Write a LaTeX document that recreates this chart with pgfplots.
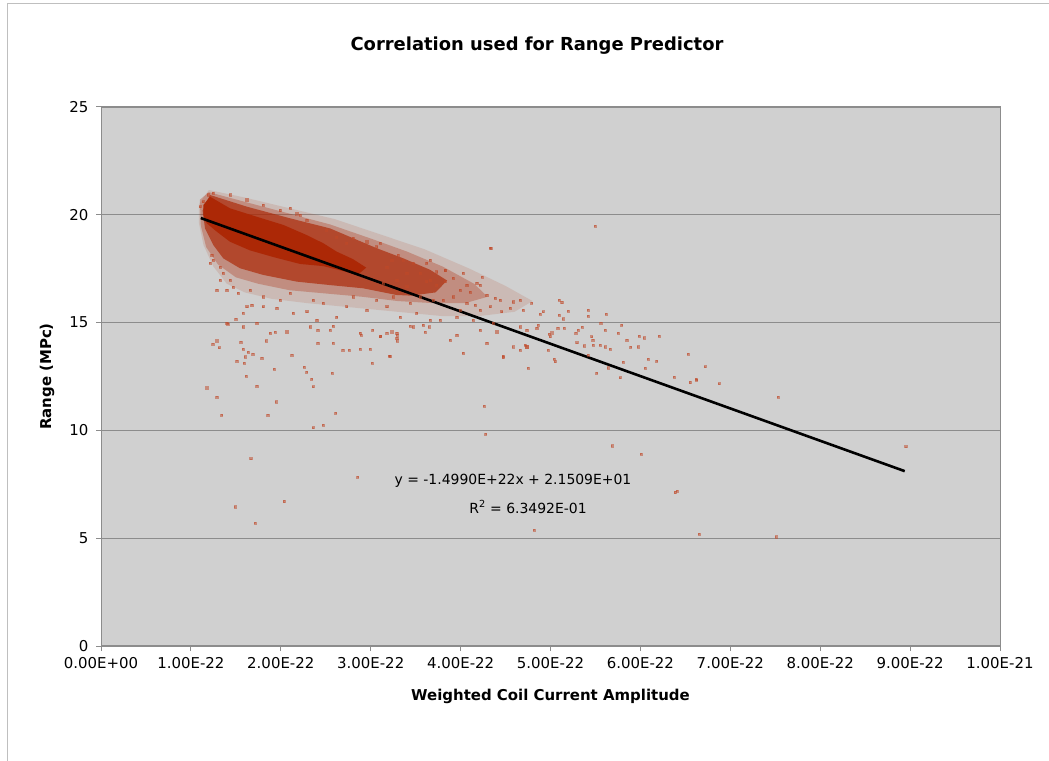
\documentclass[border=0pt]{standalone}
\usepackage{pgfplots}
\pgfplotsset{compat=1.18}
\usepackage{fontspec}
\setmainfont{DejaVu Sans}
\definecolor{plotbg}{RGB}{208,208,208}
\definecolor{core}{RGB}{172,40,6}
\definecolor{pt}{RGB}{192,72,40}
\definecolor{gridc}{RGB}{140,140,140}
\begin{document}
\begin{tikzpicture}
\useasboundingbox (0,0) rectangle (1049bp,761bp);
\fill[white] (0,0) rectangle (1049bp,761bp);
\draw[black!25, line width=1bp] (7bp,0) -- (7bp,757bp) -- (1049bp,757bp);
\begin{axis}[
  at={(101bp,115bp)}, anchor=south west,
  scale only axis, width=899bp, height=539bp,
  xmin=0, xmax=10, ymin=0, ymax=25,
  xtick={0,1,...,10},
  xticklabels={0.00E+00,1.00E-22,2.00E-22,3.00E-22,4.00E-22,5.00E-22,6.00E-22,7.00E-22,8.00E-22,9.00E-22,1.00E-21},
  ytick={0,5,...,25},
  ymajorgrids, grid style={draw=gridc, line width=1.2bp},
  axis background/.style={fill=plotbg},
  axis line style={draw=gridc, line width=1bp},
  tick style={draw=gridc, line width=1bp},
  tick align=outside, major tick length=5bp,
  xtick pos=left, ytick pos=left,
  ticklabel style={font=\fontsize{15}{18}\selectfont},
  xticklabel style={yshift=-3bp},
  yticklabel style={xshift=-4bp},
  /pgf/number format/assume math mode=true,
  title={Correlation used for Range Predictor},
  title style={font=\fontsize{18}{20}\selectfont\bfseries, at={(axis description cs:0.485,1.0928)}, anchor=base},
  xlabel={Weighted Coil Current Amplitude},
  xlabel style={font=\fontsize{15}{18}\selectfont\bfseries, at={(axis description cs:0.5,-0.102)}, anchor=base},
  ylabel={Range (MPc)},
  ylabel style={font=\fontsize{15}{18}\selectfont\bfseries, at={(axis description cs:-0.06,0.5)}, anchor=center},
]
% outer, sparse part of the dense cloud
\addplot[draw=none, fill=core, fill opacity=0.13] coordinates {
(1.09,20.5) (1.2,21.15) (1.6,20.8) (2.1,20.3) (2.6,19.8) (3.1,19.1) (3.6,18.4) (4.1,17.5) (4.5,16.7) (4.8,16.0)
(4.6,15.5) (4.2,15.3) (3.8,15.3) (3.3,15.5) (2.8,15.7) (2.3,15.9) (1.9,16.1) (1.6,16.4) (1.4,16.8) (1.25,17.6) (1.14,18.6) (1.09,19.6)} -- cycle;
\addplot[draw=none, fill=core, fill opacity=0.3] coordinates {
(1.10,20.7) (1.2,21.05) (1.6,20.6) (2.1,20.05) (2.55,19.55) (3.0,18.9) (3.4,18.3) (3.8,17.6) (4.15,16.8) (4.3,16.2)
(4.05,15.9) (3.7,15.9) (3.3,16.0) (2.9,16.2) (2.5,16.35) (2.1,16.5) (1.75,16.8) (1.5,17.1) (1.3,17.7) (1.17,18.5) (1.11,19.5)} -- cycle;
% medium density part
\addplot[draw=none, fill=core, fill opacity=0.68] coordinates {
(1.212,20.92) (1.62,20.38) (2.10,19.84) (2.547,19.37) (2.806,18.91) (3.067,18.45) (3.363,17.98) (3.66,17.45) (3.85,16.95)
(3.72,16.40) (3.45,16.25) (3.289,16.28) (2.918,16.59) (2.547,16.74) (2.177,16.90) (1.805,17.21) (1.546,17.52) (1.36,17.98) (1.249,18.60) (1.157,19.37) (1.13,20.2)} -- cycle;
% fringe points
\addplot[only marks, mark=square*, mark size=1.05bp, color=pt, mark options={opacity=0.55}] table {
x y
1.246 17.90
1.231 18.14
1.357 17.30
1.468 16.65
1.398 16.51
1.524 16.37
1.657 16.51
1.621 15.74
1.676 15.82
1.805 15.74
1.954 15.67
2.139 15.43
2.288 15.51
2.399 15.12
2.621 15.27
1.398 14.97
1.583 14.81
1.732 14.97
1.880 14.50
2.066 14.58
2.325 14.81
2.584 14.84
2.880 14.50
2.732 15.74
2.955 15.58
3.066 16.05
1.805 16.20
1.991 16.05
2.102 16.36
2.362 16.05
2.473 15.89
2.806 16.20
1.324 17.59
1.435 16.98
1.324 16.98
1.287 16.51
1.212 17.75
2.509 19.29
2.621 18.98
2.806 18.91
2.955 18.75
3.066 18.52
2.732 18.68
2.288 19.74
2.214 19.97
1.991 20.20
1.805 20.45
1.621 20.70
1.435 20.93
1.249 21.01
1.194 20.93
1.138 20.61
1.101 20.38
2.177 20.05
2.102 20.30
3.103 18.68
3.307 18.14
3.363 17.90
3.474 17.75
3.622 17.75
3.660 17.90
3.826 17.44
3.826 16.90
3.993 16.51
4.105 16.43
4.216 16.74
4.290 16.28
4.383 16.12
4.438 16.05
4.586 15.97
4.661 16.05
4.697 15.58
4.550 15.67
4.456 15.51
4.327 15.74
4.216 15.58
4.160 15.82
4.068 15.89
3.993 15.58
4.142 15.12
4.364 14.97
4.401 14.58
4.661 14.81
4.735 14.66
4.846 14.74
3.956 15.27
3.771 15.12
3.660 15.12
3.474 14.81
3.289 14.50
3.215 13.45
3.103 14.35
3.289 14.27
3.956 14.42
4.031 13.57
4.290 14.04
4.735 13.88
4.475 13.43
4.216 14.66
3.882 14.19
3.585 14.89
4.327 18.45
3.400 16.67
3.548 16.20
3.696 16.05
3.437 15.89
3.252 16.20
3.178 15.74
3.326 15.27
3.511 15.43
3.804 16.05
3.919 16.20
3.733 16.74
3.622 16.90
3.548 17.28
3.733 17.36
3.919 17.05
4.031 17.28
4.179 16.82
4.068 16.74
3.660 16.98
3.233 17.90
3.178 17.59
3.400 17.28
3.289 16.98
3.141 16.82
};
% solid core
\addplot[draw=none, fill=core] coordinates {
(1.138,20.45) (1.212,20.84) (1.435,20.30) (1.732,19.91) (2.028,19.53) (2.288,19.06) (2.473,18.68) (2.622,18.29) (2.80,17.95) (2.95,17.55)
(2.85,17.20) (2.733,17.35) (2.473,17.62) (2.214,17.72) (1.917,18.04) (1.657,18.35) (1.435,18.75) (1.287,19.22) (1.176,19.61) (1.138,19.99)} -- cycle;
% sparse points
\addplot[only marks, mark=square*, mark size=1.05bp, color=pt, mark options={opacity=0.5}] table {
x y
1.176 11.98
1.287 11.56
1.342 10.71
1.242 14.01
1.287 14.16
1.313 13.84
1.409 14.94
1.498 15.15
1.554 14.11
1.583 15.43
1.509 13.22
1.583 13.78
1.602 13.42
1.594 13.11
1.639 13.62
1.687 13.53
1.613 12.52
1.732 12.06
1.787 13.34
1.835 14.16
1.935 14.55
1.924 12.83
1.946 11.33
1.854 10.71
2.121 13.50
2.262 12.92
2.287 12.69
2.343 12.37
2.362 12.03
2.410 14.66
2.410 14.04
2.573 12.65
2.584 14.04
2.547 14.66
2.610 10.79
2.473 10.23
2.362 10.13
2.688 13.73
2.762 13.73
2.891 14.42
2.880 13.78
2.992 13.76
3.018 13.11
3.021 14.66
3.110 14.38
3.178 14.50
3.207 13.46
3.233 14.58
3.296 14.16
3.296 14.42
3.437 14.84
3.604 14.55
3.648 14.81
1.665 8.69
1.490 6.46
1.717 5.69
2.039 6.70
2.854 7.85
5.495 19.48
4.338 18.45
4.242 17.10
3.826 17.41
4.260 11.13
4.278 9.82
5.688 9.29
4.790 15.90
4.883 15.39
4.920 15.51
5.098 16.05
5.124 15.93
5.198 15.54
5.098 15.35
5.143 15.18
5.421 15.58
5.421 15.31
5.617 15.39
5.558 14.97
5.791 14.88
4.983 14.47
5.013 14.53
5.080 14.74
5.153 14.74
5.280 14.50
5.354 14.78
5.310 14.66
5.457 14.35
5.469 14.19
5.606 14.66
5.847 14.19
5.754 14.50
5.984 14.38
6.043 14.30
6.207 14.38
5.891 13.86
5.976 13.88
5.551 13.96
5.606 13.88
5.662 13.78
5.476 13.96
5.376 13.93
5.421 13.48
5.291 14.07
5.810 13.16
5.643 12.91
5.513 12.65
5.773 12.45
6.087 13.31
6.180 13.22
6.051 12.88
6.532 13.53
6.719 12.96
6.377 12.48
6.552 12.22
6.619 12.37
6.878 12.17
5.043 13.30
5.050 13.19
4.753 12.88
4.975 13.73
4.475 13.38
4.661 13.73
4.735 13.88
4.716 13.96
4.586 13.88
4.864 14.89
4.994 14.35
6.625 12.34
7.534 11.56
6.007 8.90
8.951 9.25
6.410 7.20
6.385 7.12
6.655 5.18
7.508 5.07
4.817 5.38
};
% linear trend line
\addplot[black, line width=2.6bp] coordinates {(1.11,19.85) (8.94,8.11)};
\node[font=\fontsize{14}{16}\selectfont] at (axis cs:4.583,7.653) {y = -1.4990E+22x + 2.1509E+01};
\node[font=\fontsize{14}{16}\selectfont] at (axis cs:4.75,6.447) {R\textsuperscript{2} = 6.3492E-01};
\end{axis}
\end{tikzpicture}
\end{document}
